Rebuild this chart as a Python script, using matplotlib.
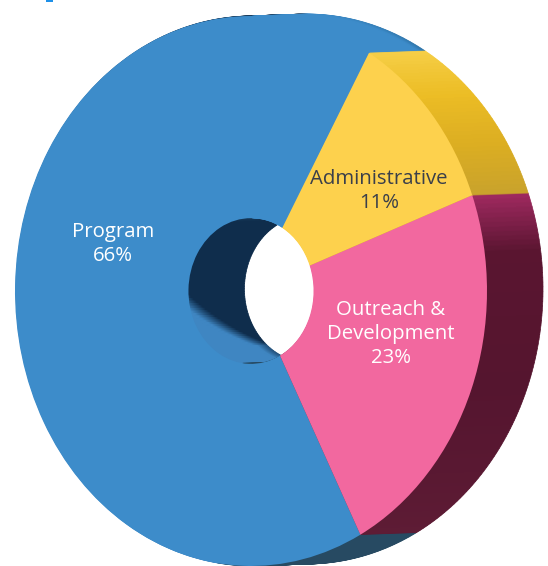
import numpy as np
import matplotlib
matplotlib.use("Agg")
import matplotlib.pyplot as plt
from matplotlib.colors import to_rgb
from matplotlib.patches import Wedge, Rectangle

# Data
categories = ["Program", "Outreach &\nDevelopment", "Administrative"]
values = [66, 23, 11]
face_colors = ["#3d8cca", "#f2689f", "#fdd14d"]
text_colors = ["#ffffff", "#ffffff", "#3a3f4a"]

W, H = 548, 566
CX, CY, RX, RY = 251, 291, 236, 275
HOLE = 0.265
DEPTH_X, DEPTH_Y = 56, 2
START = 60.0

fig = plt.figure(figsize=(W / 100, H / 100), dpi=100)
ax = fig.add_axes([0, 0, 1, 1])


def mix(a, b, t):
    t = float(np.clip(t, 0, 1))
    a, b = np.array(to_rgb(a)), np.array(to_rgb(b))
    return tuple(a + (b - a) * t)


def ramp(x, stops):
    xs = [s[0] for s in stops]
    for (x0, c0), (x1, c1) in zip(stops[:-1], stops[1:]):
        if x0 <= x <= x1:
            return mix(c0, c1, (x - x0) / (x1 - x0))
    return to_rgb(stops[0][1] if x < xs[0] else stops[-1][1])


def blue_side(a, d):
    # a: angle (60..297.6), d: depth fraction 0 front ... 1 back
    if a < 90:
        return mix("#3d8cca", "#2f74a8", (d - 0.88) / 0.12 * (90 - a) / 30)
    if a > 262:
        return to_rgb("#274a62")
    base = ramp(a, [(90, "#1b3f60"), (110, "#0f2d4c"), (188, "#0f2d4c")])
    limit = 1.0 if a > 229 else (a - 188) / 41 * 0.93
    return mix("#3f86c2", base, (d - limit + 0.18) / 0.3)


def pink_side(a, d):
    return ramp(a, [(-62, "#5e1c35"), (-20, "#55152f"), (8, "#5a1530"),
                    (14, "#7c1f48"), (20.4, "#a02a60")])


def yellow_side(a, d):
    return ramp(a, [(20.4, "#c9a32c"), (32, "#dcae22"), (45, "#ecbd25"), (60, "#f6cf48")])


# Slice boundaries come from the values, counter-clockwise from START
fracs = np.array(values) / sum(values) * 360
edges = START + np.concatenate([[0], np.cumsum(fracs)])
side_funcs = [blue_side, pink_side, yellow_side]
steps = [2.0, 1.0, 1.0]

for px in range(DEPTH_X, 0, -1):
    d = px / DEPTH_X
    cx = px / RX
    cy = d * DEPTH_Y / RY
    for i, fn in enumerate(side_funcs):
        a0, a1 = edges[i], edges[i + 1]
        n = max(1, int(np.ceil((a1 - a0) / steps[i])))
        grid = np.linspace(a0, a1, n + 1)
        for g0, g1 in zip(grid[:-1], grid[1:]):
            mid = (g0 + g1) / 2
            m = mid - 360 if i > 0 and mid > 180 else mid
            col = fn(m, d)
            ax.add_patch(Wedge((cx, cy), 1, g0, g1, width=1 - HOLE,
                               facecolor=col, edgecolor=col, lw=0.5, zorder=1))

# Front face
wedges, _ = ax.pie(values, colors=face_colors, startangle=START, counterclock=True,
                   radius=1, center=(0, 0), wedgeprops=dict(width=1 - HOLE, lw=0))
for w in wedges:
    w.set_zorder(3)
ax.set_aspect("auto")
ax.set_xlim(-CX / RX, (W - CX) / RX)
ax.set_ylim((CY - H) / RY, CY / RY)
ax.axis("off")


def P(x, y):
    return x / W, 1 - y / H


fnt = dict(family="Open Sans", fontsize=14.7, ha="center", va="center",
           linespacing=1.24, transform=fig.transFigure, zorder=5)
ax.text(*P(113, 244), f"{categories[0]}\n{values[0]}%", color=text_colors[0], **fnt)
ax.text(*P(391, 334), f"{categories[1]}\n{values[1]}%", color=text_colors[1], **fnt)
ax.text(*P(379, 191), f"{categories[2]}\n{values[2]}%", color=text_colors[2], **fnt)

# small fragment at the top edge of the picture
fig.add_artist(Rectangle(P(46, 2), 7 / W, 2 / H, transform=fig.transFigure,
                         facecolor="#1e90e8", edgecolor="none"))

fig.savefig("out.png", dpi=100, facecolor="white")
